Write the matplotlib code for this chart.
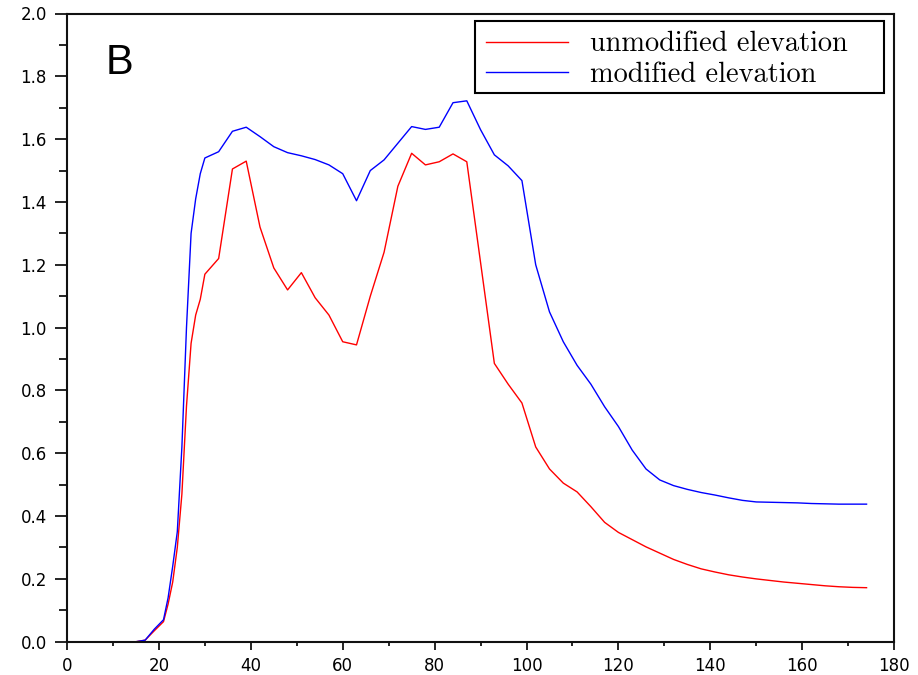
import numpy as np
import matplotlib
matplotlib.use("Agg")
import matplotlib.pyplot as plt
from matplotlib.patches import Rectangle
from matplotlib.ticker import MultipleLocator

# unmodified elevation (red)
x_unmod = [15, 17, 19, 21, 22, 23, 24, 25, 26, 27, 28, 29, 30, 33, 36, 39, 42,
           45, 48, 51, 54, 57, 60, 63, 66, 69, 72, 75, 78, 81, 84, 87, 93, 96,
           99, 102, 105, 108, 111, 114, 117, 120, 123, 126, 129, 132, 135, 138,
           141, 144, 147, 150, 153, 156, 159, 162, 165, 168, 171, 174]
y_unmod = [0.0, 0.005, 0.035, 0.064, 0.12, 0.19, 0.30, 0.47, 0.75, 0.95, 1.04,
           1.09, 1.17, 1.22, 1.505, 1.53, 1.32, 1.19, 1.12, 1.175, 1.095, 1.04,
           0.955, 0.945, 1.10, 1.24, 1.45, 1.555, 1.518, 1.528, 1.553, 1.528,
           0.886, 0.82, 0.76, 0.62, 0.55, 0.505, 0.477, 0.43, 0.38, 0.348,
           0.325, 0.302, 0.282, 0.262, 0.246, 0.232, 0.222, 0.213, 0.206, 0.200,
           0.195, 0.190, 0.186, 0.182, 0.178, 0.175, 0.173, 0.172]

# modified elevation (blue)
x_mod = [15, 17, 19, 21, 22, 23, 24, 25, 26, 27, 28, 29, 30, 33, 36, 39, 42,
         45, 48, 51, 54, 57, 60, 63, 66, 69, 72, 75, 78, 81, 84, 87, 90, 93,
         96, 99, 102, 105, 108, 111, 114, 117, 120, 123, 126, 129, 132, 135,
         138, 141, 144, 147, 150, 153, 156, 159, 162, 165, 168, 171, 174]
y_mod = [0.0, 0.005, 0.04, 0.07, 0.14, 0.24, 0.35, 0.62, 1.0, 1.30, 1.41, 1.49,
         1.54, 1.56, 1.625, 1.638, 1.608, 1.576, 1.557, 1.547, 1.535, 1.518,
         1.49, 1.404, 1.50, 1.534, 1.587, 1.640, 1.631, 1.638, 1.716, 1.722,
         1.63, 1.55, 1.515, 1.468, 1.20, 1.05, 0.955, 0.88, 0.82, 0.748, 0.685,
         0.61, 0.55, 0.515, 0.497, 0.485, 0.475, 0.467, 0.458, 0.45, 0.445,
         0.444, 0.443, 0.442, 0.440, 0.439, 0.438, 0.438, 0.438]

labels = ["unmodified elevation", "modified elevation"]

fig = plt.figure(figsize=(9.18, 6.75), dpi=100)
ax = fig.add_axes([0.073, 0.0493, 0.901, 0.9307])

ax.plot(x_unmod, y_unmod, color="#ff0000", lw=1.0, label=labels[0])
ax.plot(x_mod, y_mod, color="#0000ff", lw=1.0, label=labels[1])

ax.set_xlim(0, 180)
ax.set_ylim(0, 2.0)
ax.xaxis.set_major_locator(MultipleLocator(20))
ax.xaxis.set_minor_locator(MultipleLocator(10))
ax.yaxis.set_major_locator(MultipleLocator(0.2))
ax.yaxis.set_minor_locator(MultipleLocator(0.1))
ax.yaxis.set_major_formatter(lambda v, p: f"{v:.1f}")
ax.xaxis.set_major_formatter(lambda v, p: f"{v:.0f}")

for s in ax.spines.values():
    s.set_linewidth(1.5)
    s.set_color("#111111")

ax.tick_params(axis="y", which="major", direction="out", length=8.5, width=1.2,
               labelsize=12, pad=6)
ax.tick_params(axis="y", which="minor", direction="out", length=5.8, width=1.2)
ax.tick_params(axis="x", which="major", direction="out", length=6, width=1.2,
               labelsize=12, pad=5)
ax.tick_params(axis="x", which="minor", direction="out", length=3, width=1.2)

ax.text(0.047, 0.904, "B", transform=ax.transAxes, fontsize=30,
        family="Liberation Sans", ha="left", va="baseline")

# legend box drawn separately (wider on the right, like the original)
ax.add_patch(Rectangle((0.493, 0.8735), 0.495, 0.1145, transform=ax.transAxes,
                       facecolor="white", edgecolor="black", lw=1.5, zorder=4))
leg = ax.legend(loc="upper left", bbox_to_anchor=(0.5067, 0.972),
                borderaxespad=0, frameon=False, borderpad=0,
                prop={"family": "cmr10", "size": 20.4},
                handlelength=2.9, handletextpad=0.75, labelspacing=0.15)
leg.set_zorder(5)

fig.savefig("out.png", dpi=100)
